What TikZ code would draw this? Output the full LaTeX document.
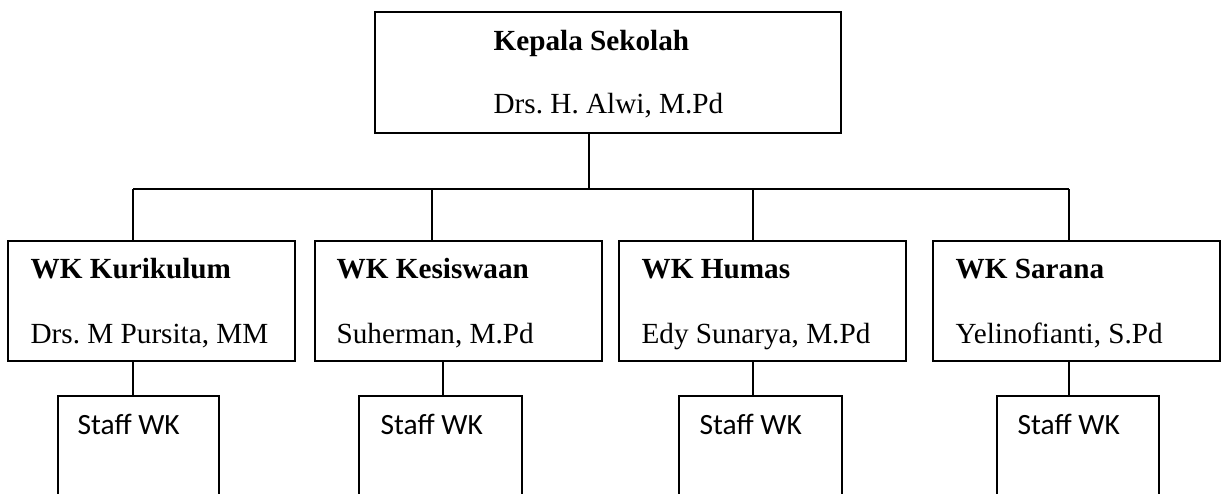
\documentclass[tikz,border=0pt]{standalone}
\usepackage{fontspec}
\setmainfont{Liberation Serif}
\newfontfamily\carlitofont{Carlito}
\frenchspacing
\begin{document}
\begin{tikzpicture}[x=1pt,y=-1pt,
  line width=1.3pt,
  box/.style={draw, rectangle, inner sep=0pt, line width=1.3pt},
  txt/.style={anchor=base west, inner sep=0pt, font=\fontsize{29.2}{34}\selectfont},
  ttl/.style={txt, font=\fontsize{29.2}{34}\selectfont\bfseries},
  stf/.style={txt, font=\fontsize{29.4}{34}\selectfont\carlitofont},
  link/.style={draw, line width=1.3pt}]
\useasboundingbox (0,0) rectangle (1223,493);
\clip (0,0) rectangle (1223,493);
% top box
\node[box, minimum width=466pt, minimum height=121pt] (top) at (608,72.5) {};
\node[ttl] (topt) at (493,50) {Kepala Sekolah};
\node[txt] (topn) at (493,113) {Drs. H. Alwi, M.Pd};
% level 2 boxes
\node[box, minimum width=287pt, minimum height=120pt] (b1) at (151.5,301) {};
\node[box, minimum width=287pt, minimum height=120pt] (b2) at (458.5,301) {};
\node[box, minimum width=287pt, minimum height=120pt] (b3) at (762.5,301) {};
\node[box, minimum width=287pt, minimum height=120pt] (b4) at (1076.5,301) {};
\node[ttl] (b1t) at (30,278) {WK Kurikulum};
\node[txt] (b1n) at (30,343) {Drs. M Pursita, MM};
\node[ttl] (b2t) at (336,278) {WK Kesiswaan};
\node[txt] (b2n) at (336,343) {Suherman, M.Pd};
\node[ttl] (b3t) at (641,278) {WK Humas};
\node[txt] (b3n) at (641,343) {Edy Sunarya, M.Pd};
\node[ttl] (b4t) at (955,278) {WK Sarana};
\node[txt] (b4n) at (955,343) {Yelinofianti, S.Pd};
% staff boxes (open at the bottom, cut by the page edge)
\node[box, minimum width=161pt, minimum height=160pt] (s1) at (138.5,476) {};
\node[box, minimum width=163pt, minimum height=160pt] (s2) at (440.5,476) {};
\node[box, minimum width=163pt, minimum height=160pt] (s3) at (760.5,476) {};
\node[box, minimum width=162pt, minimum height=160pt] (s4) at (1078,476) {};
\node[stf] (s1t) at (77,434) {Staff WK};
\node[stf] (s2t) at (380,434) {Staff WK};
\node[stf] (s3t) at (699,434) {Staff WK};
\node[stf] (s4t) at (1017,434) {Staff WK};
% junctions
\coordinate (j0) at (589,189);
\coordinate (j1) at (133,189);
\coordinate (j2) at (432,189);
\coordinate (j3) at (753,189);
\coordinate (j4) at (1069,189);
\coordinate (k1) at (133,0);
\coordinate (k2) at (443,0);
\coordinate (k3) at (753,0);
\coordinate (k4) at (1069,0);
% connectors
\draw[link] (top.south -| j0) -- (j0);
\draw[link] (j1) -- (j4);
\draw[link] (j1) -- (b1.north -| j1);
\draw[link] (j2) -- (b2.north -| j2);
\draw[link] (j3) -- (b3.north -| j3);
\draw[link] (j4) -- (b4.north -| j4);
\draw[link] (b1.south -| k1) -- (s1.north -| k1);
\draw[link] (b2.south -| k2) -- (s2.north -| k2);
\draw[link] (b3.south -| k3) -- (s3.north -| k3);
\draw[link] (b4.south -| k4) -- (s4.north -| k4);
\end{tikzpicture}
\end{document}
